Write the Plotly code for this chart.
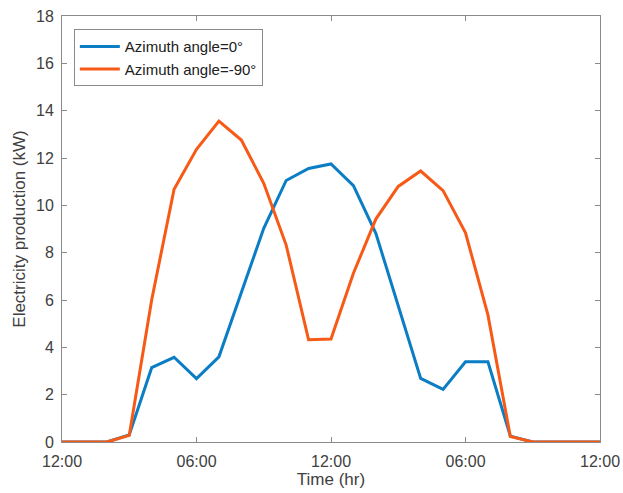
import plotly.graph_objects as go

hours = list(range(25))
azimuth_0 = [0, 0, 0, 0.3, 3.14, 3.58, 2.68, 3.6, 6.3, 9.03, 11.05, 11.56, 11.75, 10.83,
             8.82, 5.75, 2.69, 2.22, 3.39, 3.39, 0.25, 0, 0, 0, 0]
azimuth_m90 = [0, 0, 0, 0.28, 6.0, 10.68, 12.37, 13.56, 12.76, 10.93, 8.32, 4.32, 4.35, 7.13,
               9.42, 10.8, 11.45, 10.62, 8.84, 5.37, 0.23, 0, 0, 0, 0]
tick_vals = [0, 6, 12, 18, 24]
tick_text = ["12:00", "06:00", "12:00", "06:00", "12:00"]
series_names = ["Azimuth angle=0°", "Azimuth angle=-90°"]

FONT = "Liberation Sans, Arial, sans-serif"

fig = go.Figure()
fig.add_trace(go.Scatter(x=hours, y=azimuth_0, mode="lines", name=series_names[0],
                         line=dict(color="#0A7DC4", width=3)))
fig.add_trace(go.Scatter(x=hours, y=azimuth_m90, mode="lines", name=series_names[1],
                         line=dict(color="#F65A16", width=3)))

axis_common = dict(showline=True, linecolor="#8a8a8a", linewidth=1, mirror="ticks",
                   ticks="inside", ticklen=5, tickcolor="#8a8a8a", showgrid=False,
                   zeroline=False, tickfont=dict(family=FONT, size=16, color="#404040"))

fig.update_layout(
    width=623, height=493,
    margin=dict(l=62, r=23, t=16, b=51),
    plot_bgcolor="white", paper_bgcolor="white",
    font=dict(family=FONT, color="#404040"),
    xaxis=dict(range=[0, 24], tickvals=tick_vals, ticktext=tick_text,
               ticklabelstandoff=5, automargin=False,
               title=dict(text="Time (hr)", font=dict(size=17, color="#404040"), standoff=2),
               **axis_common),
    yaxis=dict(range=[0, 18], dtick=2, ticklabelstandoff=4, automargin=False,
               title=dict(text="Electricity production (kW)", font=dict(size=17, color="#404040"), standoff=6),
               **axis_common),
    legend=dict(x=0.022, y=0.969, xanchor="left", yanchor="top",
                bordercolor="#8a8a8a", borderwidth=1, bgcolor="white",
                font=dict(family=FONT, size=15, color="#202020"), tracegroupgap=0,
                itemwidth=40),
    showlegend=True,
)

fig.write_html("out.html")
